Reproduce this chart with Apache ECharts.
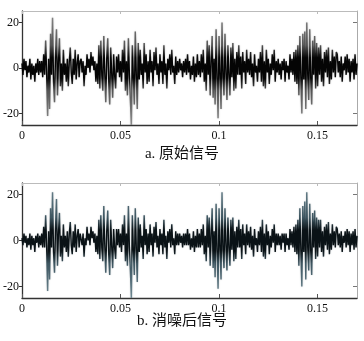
<!DOCTYPE html>
<html><head><meta charset="utf-8">
<script src="https://cdn.jsdelivr.net/npm/echarts@6/dist/echarts.min.js"></script>
<style>html,body{margin:0;padding:0;background:#fff}#c{width:364px;height:341px}</style>
</head><body><div id="c"></div>
<script>
const dt = 0.0005; // sample spacing (s)
const xTicks = [0, 0.05, 0.1, 0.15];
const yTicks = [-20, 0, 20];
const captions = ['a. 原始信号', 'b. 消噪后信号'];
const original = [
 2,-3,4,-1,3,-4,1,-2,4,-5,2,-3,1,-6,2,-2,4,-3,3,-2,
 3,-4,6,-3,12,-2,-21,4,-18,15,-3,22,-6,-15,5,17,-12,3,13,-8,
 2,-10,8,-3,2,-6,4,-8,3,9,-2,-7,4,-3,8,-5,2,6,-4,3,
 4,-2,3,-8,1,-3,6,0,4,-2,7,1,5,-1,3,-6,2,-7,10,-9,
 12,-3,-10,14,-2,-15,4,13,-6,-16,9,-2,-13,6,-3,-9,5,-2,6,-4,
 3,-6,8,-2,12,-10,3,-12,13,-3,-14,-25,10,-4,-16,16,-3,-18,11,-5,
 8,-3,2,-9,11,-2,6,-7,3,-6,8,-2,3,-8,7,-1,9,-3,2,-7,
 6,-2,3,-7,10,-3,2,-9,4,-1,6,-3,8,-2,1,-7,5,-3,3,-2,
 4,-1,2,-4,3,-2,4,-3,6,-2,3,-5,1,-3,5,-6,2,-4,6,-3,
 3,-4,6,-2,8,-6,2,-10,12,-3,10,-12,3,14,-13,4,-16,17,-4,-22,
 14,-3,-18,20,-4,-12,15,-2,-14,10,-3,-12,9,-4,11,-10,4,-9,7,-3,
 10,-3,5,-9,7,-2,3,-7,8,-2,4,-3,7,-4,2,-8,6,-2,1,-6,
 4,-2,7,-6,10,-8,3,-9,8,-2,4,-7,2,-3,6,-1,8,-6,3,-2,
 4,-3,2,-5,3,-1,4,-6,3,-2,1,-5,6,-2,4,-3,7,-6,8,-7,
 10,-12,14,-4,-20,15,-5,16,-18,20,-3,-14,17,-4,-16,12,-3,14,-9,11,
 -8,9,-3,10,-6,4,-8,7,-2,8,-4,9,-7,3,-5,8,-2,5,-4,7,
 6,-2,3,-4,5,-6,2,-1,5,-3,6,-2,4,-6,3,-2,4,-5,6,-3,2
];
const denoised = [
 1,-2,3,-1,2,-3,1,-2,3,-4,2,-2,1,-5,2,-1,3,-3,2,-2,
 3,-3,6,-3,11,-2,-22,4,-17,14,-3,21,-5,-14,5,18,-11,3,12,-7,
 2,-9,7,-3,2,-5,4,-7,3,8,-2,-6,4,-3,7,-5,2,5,-3,3,
 3,-2,3,-7,1,-2,6,0,3,-2,6,1,4,-1,3,-5,2,-6,9,-8,
 11,-3,-9,15,-2,-14,4,13,-6,-15,9,-2,-12,5,-3,-8,5,-2,5,-3,
 3,-5,7,-2,11,-9,3,-11,15,-3,-13,-25,11,-4,-15,14,-3,-18,10,-5,
 7,-3,2,-8,11,-2,5,-6,3,-5,7,-2,3,-7,6,-1,8,-3,2,-6,
 5,-2,3,-6,9,-3,2,-8,4,-1,5,-3,7,-2,1,-6,4,-2,3,-2,
 3,-1,2,-3,3,-2,3,-2,5,-2,3,-4,1,-3,4,-5,2,-3,5,-3,
 3,-3,5,-2,7,-6,2,-9,11,-3,10,-11,3,14,-12,4,-16,16,-4,-21,
 14,-3,-17,21,-4,-12,14,-2,-13,10,-3,-11,9,-4,10,-9,4,-8,6,-3,
 9,-3,5,-8,7,-2,3,-6,7,-2,4,-3,6,-4,2,-7,5,-2,1,-5,
 4,-2,6,-5,9,-7,3,-8,7,-2,4,-6,2,-3,5,-1,7,-5,3,-2,
 3,-2,2,-4,3,-1,3,-5,3,-2,1,-4,5,-2,4,-3,6,-5,7,-6,
 9,-11,14,-4,-20,15,-5,17,-17,21,-3,-13,16,-4,-15,12,-3,13,-8,10,
 -7,9,-3,9,-5,4,-7,6,-2,7,-4,8,-6,3,-4,7,-2,4,-3,6,
 5,-2,3,-3,4,-5,2,-1,4,-3,5,-2,4,-5,3,-2,4,-4,5,-3,2
];

const toPairs = arr => arr.map((v, i) => [i * dt, v]);
const font = 'Liberation Serif, Times New Roman, serif';
const grids = [
  {left: 21, top: 11, width: 336, height: 114},
  {left: 21, top: 183, width: 336, height: 115}
];
function vGrad(g, edge, mid, core) {
  return {type: 'linear', x: 0, y: g.top, x2: 0, y2: g.top + g.height, global: true,
    colorStops: [
      {offset: 0, color: edge}, {offset: 0.3, color: mid}, {offset: 0.41, color: core},
      {offset: 0.59, color: core}, {offset: 0.7, color: mid}, {offset: 1, color: edge}
    ]};
}
const xAxes = [], yAxes = [];
grids.forEach((g, gi) => {
  const base = {type: 'value', gridIndex: gi, min: 0, max: 0.17, splitLine: {show: false}};
  xAxes.push(Object.assign({}, base, {
    position: 'bottom',
    axisLine: {show: true, onZero: false, lineStyle: {color: '#333', width: 1.3}},
    axisTick: {show: true, inside: true, length: 4, customValues: xTicks, lineStyle: {color: '#555'}},
    axisLabel: {show: true, customValues: xTicks, margin: 5, color: '#111', fontFamily: font, fontSize: 12,
      formatter: v => String(+v.toFixed(2))}
  }));
  xAxes.push(Object.assign({}, base, {
    position: 'top',
    axisLine: {show: true, onZero: false, lineStyle: {color: '#bbb', width: 1}},
    axisTick: {show: true, inside: true, length: 3, customValues: xTicks, lineStyle: {color: '#bbb'}},
    axisLabel: {show: false}
  }));
  const ybase = {type: 'value', gridIndex: gi, min: -25, max: 25, splitLine: {show: false}};
  yAxes.push(Object.assign({}, ybase, {
    position: 'left',
    axisLine: {show: true, onZero: false, lineStyle: {color: '#333', width: 1.3}},
    axisTick: {show: true, inside: false, length: 3, customValues: yTicks, lineStyle: {color: '#333'}},
    axisLabel: {show: true, customValues: yTicks, margin: 3, color: '#111', fontFamily: font, fontSize: 12}
  }));
  yAxes.push(Object.assign({}, ybase, {
    position: 'right',
    axisLine: {show: true, onZero: false, lineStyle: {color: '#aaa', width: 1}},
    axisTick: {show: true, inside: true, length: 4, customValues: yTicks, lineStyle: {color: '#777'}},
    axisLabel: {show: false}
  }));
});

const chart = echarts.init(document.getElementById('c'), null, {renderer: 'canvas'});
chart.setOption({
  animation: false,
  backgroundColor: '#fff',
  grid: grids,
  xAxis: xAxes,
  yAxis: yAxes,
  series: [
    {type: 'line', xAxisIndex: 0, yAxisIndex: 0, data: toPairs(original), showSymbol: false,
      lineStyle: {color: vGrad(grids[0], '#8c8c8c', '#555', '#050505'), width: 1.4,
        shadowBlur: 1.5, shadowColor: 'rgba(0,0,0,0.3)'}, silent: true},
    {type: 'line', xAxisIndex: 2, yAxisIndex: 2, data: toPairs(denoised), showSymbol: false,
      lineStyle: {color: vGrad(grids[1], '#6f8993', '#3d5560', '#0a1216'), width: 1.4,
        shadowBlur: 1.5, shadowColor: 'rgba(30,50,60,0.3)'}, silent: true}
  ],
  graphic: [
    {type: 'text', left: 'center', top: 147, style: {text: captions[0], font: '15px "Liberation Serif", "Noto Sans CJK SC"', fill: '#111'}},
    {type: 'text', left: 'center', top: 314, style: {text: captions[1], font: '15px "Liberation Serif", "Noto Sans CJK SC"', fill: '#111'}}
  ]
});
</script></body></html>
